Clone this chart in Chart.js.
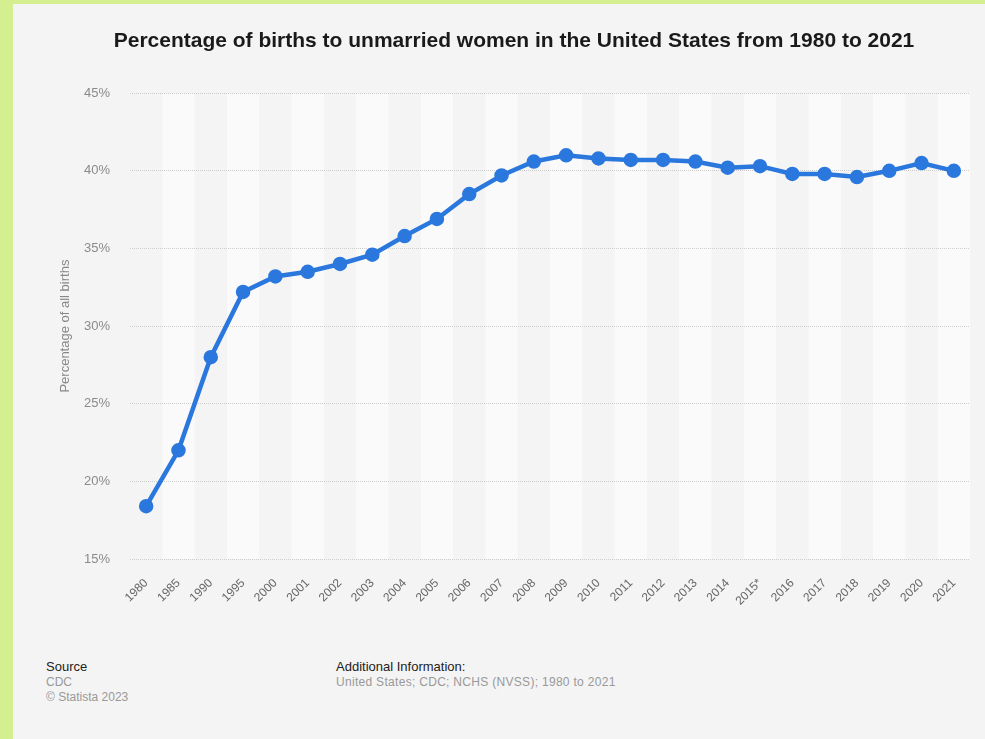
<!DOCTYPE html>
<html>
<head>
<meta charset="utf-8">
<script src="https://cdn.jsdelivr.net/npm/chart.js@4"></script>
<style>
  body { margin: 0; background: #d3ef8f; width: 985px; height: 739px; overflow: hidden; font-family: "Liberation Sans", Arial, sans-serif; }
  #panel { position: absolute; left: 13px; top: 4px; width: 972px; height: 735px; background: #f4f4f4; }
  #wrap { position: absolute; left: 0; top: 0; width: 972px; height: 630px; }
  .foot { position: absolute; font-size: 12px; line-height: 15px; color: #999; }
  .foot b { font-weight: normal; color: #222; font-size: 13px; display: block; margin-bottom: 1px; }
</style>
</head>
<body>
<div id="panel">
  <div id="wrap"><canvas id="chart"></canvas></div>
  <div class="foot" style="left:33px; top:655px;"><b>Source</b>CDC<br>© Statista 2023</div>
  <div class="foot" style="left:323px; top:655px;"><b>Additional Information:</b><span style="letter-spacing:0.3px">United States; CDC; NCHS (NVSS); 1980 to 2021</span></div>
</div>
<script>
// data
const years = ['1980', '1985', '1990', '1995', '2000', '2001', '2002', '2003', '2004', '2005', '2006', '2007', '2008',
  '2009', '2010', '2011', '2012', '2013', '2014', '2015*', '2016', '2017', '2018', '2019', '2020', '2021'];
const shares = [18.4, 22.0, 28.0, 32.2, 33.2, 33.5, 34.0, 34.6, 35.8, 36.9, 38.5, 39.7, 40.6,
  41.0, 40.8, 40.7, 40.7, 40.6, 40.2, 40.3, 39.8, 39.8, 39.6, 40.0, 40.5, 40.0];
const yTicks = [15, 20, 25, 30, 35, 40, 45];

const font = '"Liberation Sans", Arial, sans-serif';

// light stripes behind every second year
const bands = {
  id: 'bands',
  beforeDraw(chart) {
    const ctx = chart.ctx, x = chart.scales.x, area = chart.chartArea;
    const w = x.getPixelForValue(1) - x.getPixelForValue(0);
    ctx.save();
    ctx.fillStyle = '#fafafa';
    years.forEach((y, i) => {
      if (i % 2 === 1) {
        const cx = x.getPixelForValue(i);
        ctx.fillRect(cx - w / 2, area.top, w, area.bottom - area.top);
      }
    });
    ctx.restore();
  }
};

new Chart(document.getElementById('chart'), {
  type: 'line',
  data: {
    labels: years,
    datasets: [{
      label: 'Share of births',
      data: shares,
      borderColor: '#2a77dd',
      backgroundColor: '#2a77dd',
      borderWidth: 4.5,
      pointRadius: 5,
      pointHoverRadius: 5,
      tension: 0
    }]
  },
  options: {
    responsive: true,
    maintainAspectRatio: false,
    animation: false,
    layout: { padding: { left: 45, right: 15, top: 0, bottom: 0 } },
    plugins: {
      legend: { display: false },
      tooltip: { enabled: false },
      title: {
        display: true,
        text: 'Percentage of births to unmarried women in the United States from 1980 to 2021',
        color: '#1a1a1a',
        font: { family: font, size: 21, weight: 'bold' },
        padding: { top: 25, bottom: 39 }
      }
    },
    scales: {
      x: {
        offset: true,
        grid: { display: false },
        border: { display: false },
        ticks: {
          color: '#666',
          font: { family: font, size: 12 },
          minRotation: 45, maxRotation: 45,
          autoSkip: false,
          padding: 9
        },
        afterFit(s) { s.height = 75; }
      },
      y: {
        min: 15, max: 45,
        afterBuildTicks(s) { s.ticks = yTicks.map(v => ({ value: v })); },
        grid: { color: '#cdcdcd', lineWidth: 1, drawTicks: false },
        border: { display: false, dash: [1, 1] },
        ticks: {
          color: '#8a8a8a',
          font: { family: font, size: 13 },
          padding: 20,
          callback: v => v + '%'
        },
        title: {
          display: true,
          text: 'Percentage of all births',
          color: '#888',
          font: { family: font, size: 13 },
          padding: 0
        },
        afterFit(s) { s.width = 72; }
      }
    }
  },
  plugins: [bands]
});
</script>
</body>
</html>
